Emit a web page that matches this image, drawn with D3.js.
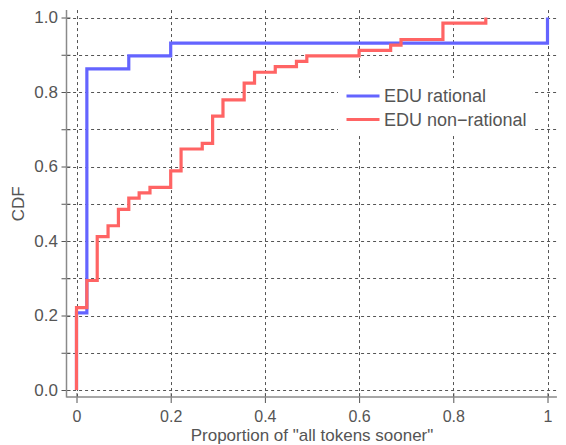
<!DOCTYPE html>
<html>
<head>
<meta charset="utf-8">
<script src="https://cdn.jsdelivr.net/npm/d3@7"></script>
<style>
  html, body { margin: 0; padding: 0; background: #fff; }
  svg { display: block; font-family: "Liberation Sans", Arial, Helvetica, sans-serif; }
</style>
</head>
<body>
<svg id="chart" width="566" height="445"></svg>
<script>
// Empirical CDF step points: x = proportion of "all tokens sooner", cdf = cumulative share
const rationalX   = [0, 0.022, 0.111, 0.2, 1.0];
const rationalCdf = [0.207, 0.862, 0.897, 0.931, 1.0];

const nonRationalX   = [0, 0.022, 0.044, 0.067, 0.089, 0.111, 0.133, 0.156, 0.2, 0.222,
                        0.267, 0.289, 0.311, 0.356, 0.378, 0.422, 0.467, 0.489, 0.6,
                        0.667, 0.689, 0.778, 0.869];
const nonRationalCdf = [0.221, 0.294, 0.412, 0.441, 0.485, 0.515, 0.529, 0.544, 0.588, 0.647,
                        0.662, 0.735, 0.779, 0.824, 0.853, 0.868, 0.882, 0.897, 0.912,
                        0.926, 0.941, 0.985, 1.0];

const seriesNames = ["EDU rational", "EDU non\u2212rational"];
const seriesColors = ["#6464ff", "#ff6464"];

const yTickValues = [0, 0.1, 0.2, 0.3, 0.4, 0.5, 0.6, 0.7, 0.8, 0.9, 1.0];
const yTickLabels = ["0.0", "", "0.2", "", "0.4", "", "0.6", "", "0.8", "", "1.0"];
const xTickValues = [0, 0.2, 0.4, 0.6, 0.8, 1.0];
const xTickLabels = ["0", "0.2", "0.4", "0.6", "0.8", "1"];

const svg = d3.select("#chart");

const x = d3.scaleLinear().domain([0, 1]).range([76.5, 547.5]);
const y = d3.scaleLinear().domain([0, 1]).range([390, 17.5]);

// plotting region extends 2% beyond the data range on each side
const xLo = x(-0.02), xHi = x(1.02);
const yLo = y(-0.02), yHi = y(1.02);

const gridColor = "#555";
const axisColor = "#8a8a8a";
const textColor = "#555";

// dashed grid
const grid = svg.append("g").attr("stroke", gridColor).attr("stroke-width", 1)
  .attr("stroke-dasharray", "3,3").attr("fill", "none");
grid.selectAll("line.h").data(yTickValues).join("line").attr("class", "h")
  .attr("x1", xLo).attr("x2", xHi)
  .attr("y1", d => Math.round(y(d)) + 0.5).attr("y2", d => Math.round(y(d)) + 0.5);
grid.selectAll("line.v").data(xTickValues).join("line").attr("class", "v")
  .attr("y1", yHi).attr("y2", yLo)
  .attr("x1", d => Math.round(x(d)) + 0.5).attr("x2", d => Math.round(x(d)) + 0.5);

// legend background hides the grid behind it
svg.append("rect").attr("x", 338).attr("y", 78).attr("width", 194).attr("height", 57)
  .attr("fill", "#fff");

// step lines
const step = d3.line().x(d => x(d[0])).y(d => y(d[1])).curve(d3.curveStepAfter);
const series = [
  [[0, 0]].concat(rationalX.map((v, i) => [v, rationalCdf[i]])),
  [[0, 0]].concat(nonRationalX.map((v, i) => [v, nonRationalCdf[i]]))
];
svg.append("g").selectAll("path").data(series).join("path")
  .attr("d", step)
  .attr("fill", "none")
  .attr("stroke", (d, i) => seriesColors[i])
  .attr("stroke-width", 3.2)
  .attr("stroke-linejoin", "miter")
  .attr("stroke-linecap", "butt");

// y axis
const yAxis = d3.axisLeft(y).tickValues(yTickValues)
  .tickFormat((d, i) => yTickLabels[i]).tickSize(5).tickPadding(3.5);
const gy = svg.append("g").attr("transform", "translate(66.5,0)").call(yAxis);
gy.select(".domain").remove();
gy.selectAll(".tick line").attr("x1", 4).attr("stroke", textColor);
gy.selectAll(".tick text").attr("fill", textColor).style("font-size", "17px");
gy.append("line").attr("x1", 0).attr("x2", 0).attr("y1", yHi).attr("y2", yLo)
  .attr("stroke", axisColor).attr("stroke-width", 1.5);

// x axis
const xAxis = d3.axisBottom(x).tickValues(xTickValues)
  .tickFormat((d, i) => xTickLabels[i]).tickSize(6).tickPadding(8);
const gx = svg.append("g").attr("transform", "translate(0,397)").call(xAxis);
gx.select(".domain").remove();
gx.selectAll(".tick line").attr("y1", -4).attr("stroke", textColor);
gx.selectAll(".tick text").attr("fill", textColor).style("font-size", "16px");
gx.append("line").attr("x1", xLo - 0.5).attr("x2", xHi).attr("y1", 0).attr("y2", 0)
  .attr("stroke", axisColor).attr("stroke-width", 1.5);
svg.selectAll(".tick text").attr("font-family", null);

// axis titles
svg.append("text").attr("x", (x(0) + x(1)) / 2).attr("y", 441)
  .attr("text-anchor", "middle").attr("fill", textColor).style("font-size", "17px")
  .text("Proportion of \"all tokens sooner\"");
svg.append("text").attr("transform", `translate(24,${(y(0) + y(1)) / 2}) rotate(-90)`)
  .attr("text-anchor", "middle").attr("fill", textColor).style("font-size", "17px")
  .text("CDF");

// legend
const legend = svg.append("g");
seriesNames.forEach((name, i) => {
  const ly = 96 + i * 23.5;
  legend.append("line").attr("x1", 346.5).attr("x2", 379.5).attr("y1", ly).attr("y2", ly)
    .attr("stroke", seriesColors[i]).attr("stroke-width", 3.2);
  legend.append("text").attr("x", 384).attr("y", ly + 6).attr("fill", textColor)
    .style("font-size", "18px").text(name);
});
</script>
</body>
</html>
